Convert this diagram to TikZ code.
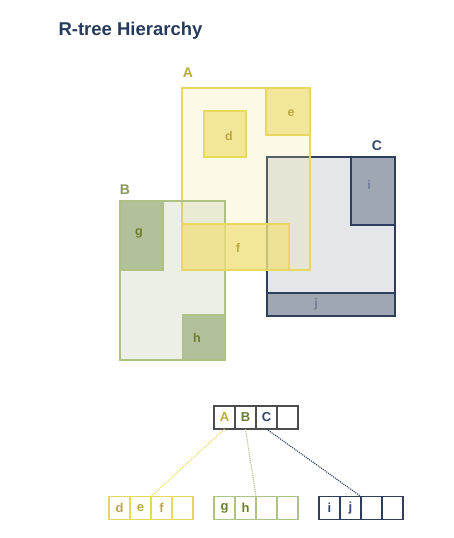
\documentclass[tikz,border=0pt]{standalone}
\usepackage{fontspec}
\setmainfont{Liberation Sans}
\usetikzlibrary{positioning}

\definecolor{titleblue}{HTML}{263B5A}
\definecolor{ayellow}{HTML}{E8D85E}
\definecolor{ayfill}{HTML}{F0E080}
\definecolor{aytext}{HTML}{B9AA3C}
\definecolor{bgreen}{HTML}{AFC184}
\definecolor{bgfill}{HTML}{B3C19B}
\definecolor{bgtext}{HTML}{6B7D2E}
\definecolor{cnavy}{HTML}{2E3F5C}
\definecolor{cnfill}{HTML}{E4E6EA}
\definecolor{cnleaf}{HTML}{9EA7B3}
\definecolor{cntext}{HTML}{34466A}
\definecolor{rootgray}{HTML}{4D4D4D}

\begin{document}
\begin{tikzpicture}[
    x=1pt, y=-1pt,
    font=\bfseries,
    abox/.style={draw=ayellow, fill=ayfill, fill opacity=0.2, line width=1.4pt},
    aleaf/.style={draw=ayellow, fill=ayfill, fill opacity=0.75, line width=1.4pt},
    bbox/.style={draw=bgreen, fill=bgfill, fill opacity=0.25, line width=1.4pt},
    bleaf/.style={draw=bgreen, fill=bgfill, line width=1.4pt},
    cbox/.style={draw=cnavy, fill=cnfill, line width=1.4pt},
    cleaf/.style={draw=cnavy, fill=cnleaf, line width=1.4pt},
    big/.style={font=\fontsize{14}{16}\selectfont\bfseries},
    small/.style={font=\fontsize{12.5}{14}\selectfont\bfseries},
    cell/.style={
        rectangle,
        draw,
        line width=1.1pt,
        outer sep=0pt,
        inner sep=0pt,
        minimum width=21pt,
        minimum height=23pt,
        font=\fontsize{13}{15}\selectfont\bfseries
    },
    link/.style={densely dotted, line width=1.1pt}
]
\useasboundingbox (0,0) rectangle (454,538);

\node[anchor=west, text=titleblue, font=\fontsize{18.5}{21}\selectfont\bfseries] (title) at (55,31) {R-tree Hierarchy};

% region C with i and j
\draw[cbox] (267,157) rectangle (395,316);
\draw[cleaf] (351,157) rectangle (395,225);
\draw[cleaf] (267,293) rectangle (395,316);

% region A with d and e
\draw[abox] (182,88) rectangle (310,270);
\draw[aleaf] (204,111) rectangle (246,157);
\draw[aleaf] (266,88) rectangle (310,135);

% region B with g and h
\draw[bbox] (120,201) rectangle (225,360);
\draw[bleaf] (120,201) rectangle (163,270);
\draw[bleaf] (183,315) rectangle (225,360);

% f lies on top of A and B
\draw[aleaf] (182,224) rectangle (289,270);

\node[big, text=aytext] (labA) at (188,73) {A};
\node[big, text=bgtext!80] (labB) at (125,190) {B};
\node[big, text=cntext] (labC) at (377,146) {C};

\node[small, text=aytext] (labd) at (229,136) {d};
\node[small, text=aytext] (labe) at (291,113) {e};
\node[small, text=aytext] (labf) at (238,248) {f};
\node[small, text=bgtext] (labg) at (139,233) {g};
\node[small, text=bgtext] (labh) at (197,338) {h};
\node[small, text=cntext!70] (labi) at (369,185) {i};
\node[small, text=cntext!70] (labj) at (316,304) {j};

% root node
\node[cell, draw=rootgray, text=aytext] (rA) at (224.5,417.5) {A};
\node[cell, draw=rootgray, text=bgtext, right=0pt of rA] (rB) {B};
\node[cell, draw=rootgray, text=cntext, right=0pt of rB] (rC) {C};
\node[cell, draw=rootgray, right=0pt of rC] (rD) {};

% leaf nodes
\node[cell, draw=ayellow, text=aytext] (ld) at (119.5,508) {d};
\node[cell, draw=ayellow, text=aytext, right=0pt of ld] (le) {e};
\node[cell, draw=ayellow, text=aytext, right=0pt of le] (lf) {f};
\node[cell, draw=ayellow, right=0pt of lf] (lx) {};

\node[cell, draw=bgreen, text=bgtext] (lg) at (224.5,508) {g};
\node[cell, draw=bgreen, text=bgtext, right=0pt of lg] (lh) {h};
\node[cell, draw=bgreen, right=0pt of lh] (ly) {};
\node[cell, draw=bgreen, right=0pt of ly] (ly2) {};

\node[cell, draw=cnavy, text=cntext] (li) at (329.5,508) {i};
\node[cell, draw=cnavy, text=cntext, right=0pt of li] (lj) {j};
\node[cell, draw=cnavy, right=0pt of lj] (lz) {};
\node[cell, draw=cnavy, right=0pt of lz] (lz2) {};

\draw[link, draw=ayellow] (rA.south) -- (le.north east);
\draw[link, draw=bgreen] (rB.south) -- (lh.north east);
\draw[link, draw=cnavy] (rC.south) -- (lj.north east);

\end{tikzpicture}
\end{document}
